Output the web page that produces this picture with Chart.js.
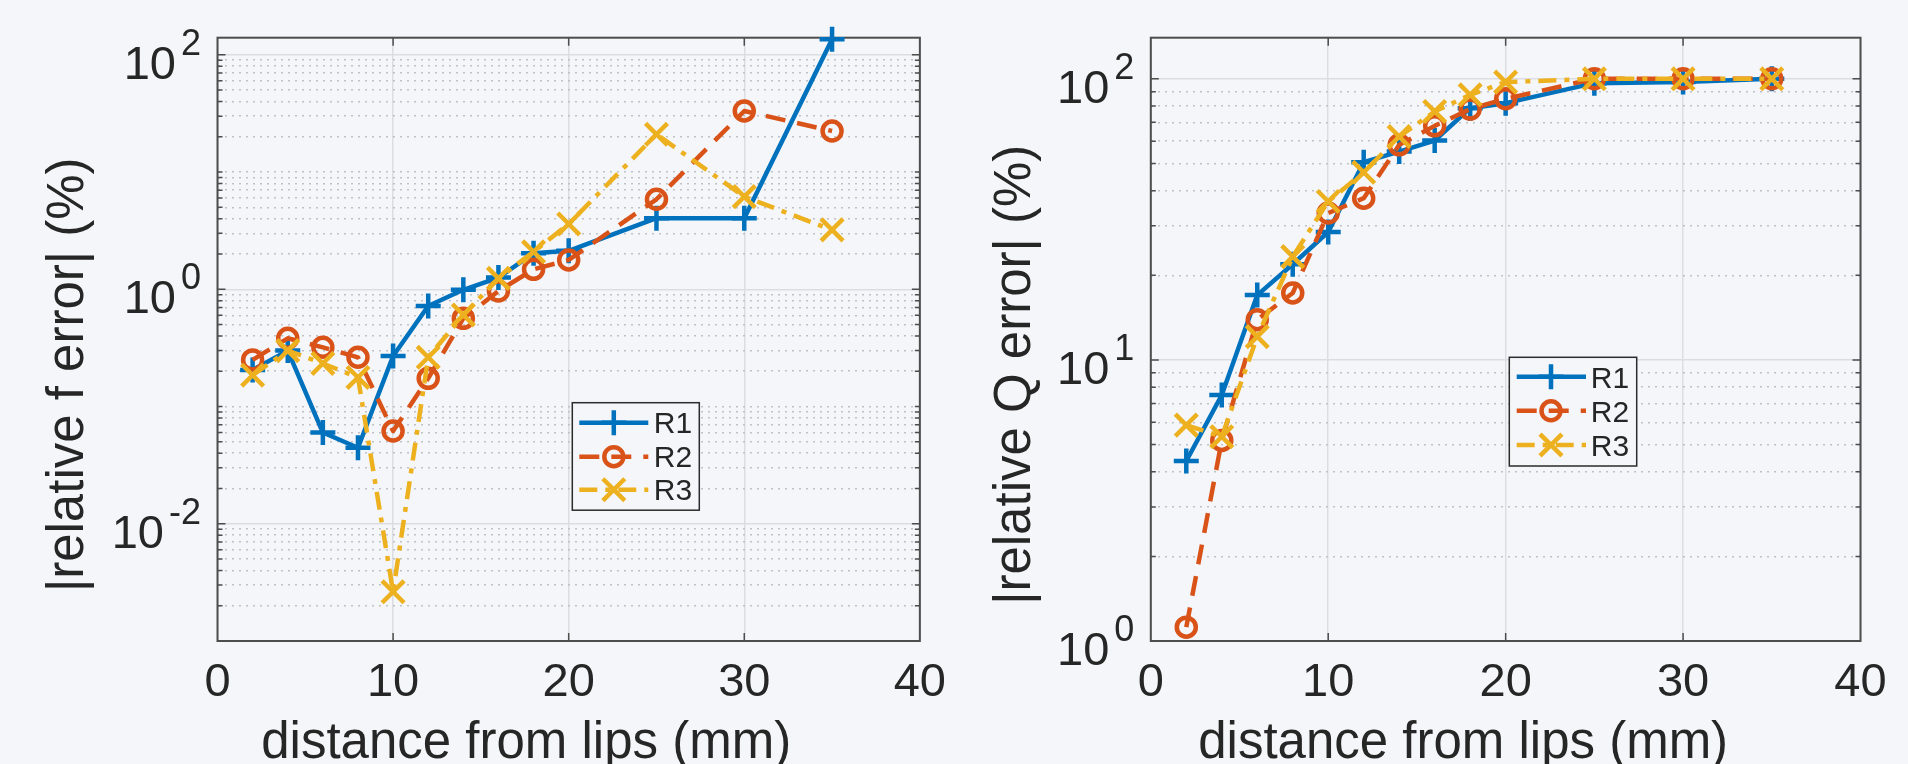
<!DOCTYPE html>
<html><head><meta charset="utf-8">
<script src="https://cdn.jsdelivr.net/npm/chart.js@4.4.1/dist/chart.umd.min.js"></script>
<style>
html,body{margin:0;padding:0;background:#f5f6fa;width:1908px;height:764px;overflow:hidden;}
#wrapL{position:absolute;left:0;top:0;width:960px;height:764px;}
#wrapR{position:absolute;left:960px;top:0;width:948px;height:764px;}
canvas{display:block;}
</style></head><body>
<div id="wrapL"><canvas id="chartF" width="960" height="764"></canvas></div>
<div id="wrapR"><canvas id="chartQ" width="948" height="764"></canvas></div>
<script>
// ---------------- data ----------------
const distances = [2, 4, 6, 8, 10, 12, 14, 16, 18, 20, 25, 30, 35];
const seriesNames = ['R1', 'R2', 'R3'];
// |relative f error| (%)
const fErrR1 = [0.205, 0.30, 0.060, 0.0445, 0.27, 0.72, 0.99, 1.26, 2.03, 2.13, 4.04, 4.04, 136];
const fErrR2 = [0.25, 0.382, 0.32, 0.263, 0.0618, 0.174, 0.565, 0.967, 1.48, 1.78, 5.86, 33.2, 22.4];
const fErrR3 = [0.185, 0.30, 0.233, 0.177, 0.00263, 0.263, 0.604, 1.24, 2.09, 3.61, 21.0, 6.17, 3.21];
// |relative Q error| (%)
const qErrR1 = [4.37, 7.5, 17.0, 21.9, 28.5, 50.5, 55.1, 60.3, 78.6, 81.9, 96.5, 97.3, 100];
const qErrR2 = [1.12, 5.17, 13.9, 17.3, 33.3, 37.6, 58.2, 68.0, 78.0, 84.9, 100, 100, 100];
const qErrR3 = [5.86, 5.33, 12.1, 23.3, 36.6, 46.5, 62.3, 76.5, 87.7, 97.3, 100, 100, 100];
// tick labels
const xTicks = [0, 10, 20, 30, 40];
const fTickExponents = [-2, 0, 2];
const qTickExponents = [0, 1, 2];
const xTitle = 'distance from lips (mm)';
const fTitle = '|relative f error| (%)';
const qTitle = '|relative Q error| (%)';

// ---------------- styles ----------------
const FONT = "'Liberation Sans', Arial, Helvetica, sans-serif";
const TXT = '#262626';
const BG = '#f5f6fa';
const BOXC = '#4d4d4d';
const MAJOR_GRID = '#dcdde2';
const MINOR_GRID = '#bfc1c6';
const seriesStyles = [
  { color: '#0072BD', dash: [], pointStyle: 'cross', radius: 12.5, order: 3 },
  { color: '#D95319', dash: [20, 12], pointStyle: 'circle', radius: 9.5, order: 2 },
  { color: '#EDB120', dash: [18, 8, 5, 8], pointStyle: 'crossRot', radius: 15.5, order: 1 }
];
const NB = '\u00A0';

function makeDatasets(seriesValues) {
  return seriesValues.map((vals, i) => {
    const s = seriesStyles[i];
    return {
      label: seriesNames[i],
      data: distances.map((d, j) => ({ x: d, y: vals[j] })),
      borderColor: s.color,
      backgroundColor: 'rgba(0,0,0,0)',
      borderWidth: 4.5,
      borderDash: s.dash,
      borderJoinStyle: 'round',
      pointStyle: s.pointStyle,
      pointRadius: s.radius,
      pointBorderWidth: 4.5,
      pointBorderColor: s.color,
      pointBackgroundColor: 'rgba(0,0,0,0)',
      tension: 0,
      fill: false,
      clip: false,
      order: s.order
    };
  });
}

const decor = {
  id: 'decor',
  beforeDatasetsDraw(chart, args, opts) {
    const { ctx, chartArea: a } = chart;
    const xs = chart.scales.x, ys = chart.scales.y, ym = chart.scales.yMinor;
    ctx.save();
    ctx.strokeStyle = BOXC;
    ctx.lineWidth = 1.5;
    ctx.beginPath();
    xs.ticks.forEach(t => {
      const px = xs.getPixelForValue(t.value);
      if (px <= a.left + 1 || px >= a.right - 1) return;
      ctx.moveTo(px, a.bottom); ctx.lineTo(px, a.bottom - 8);
      ctx.moveTo(px, a.top); ctx.lineTo(px, a.top + 8);
    });
    ys.ticks.forEach(t => {
      const py = ys.getPixelForValue(t.value);
      if (py >= a.bottom - 1 || py <= a.top + 1) return;
      ctx.moveTo(a.left, py); ctx.lineTo(a.left + 8, py);
      ctx.moveTo(a.right, py); ctx.lineTo(a.right - 8, py);
    });
    ym.ticks.forEach(t => {
      const py = ym.getPixelForValue(t.value);
      if (py >= a.bottom - 1 || py <= a.top + 1) return;
      ctx.moveTo(a.left, py); ctx.lineTo(a.left + 5, py);
      ctx.moveTo(a.right, py); ctx.lineTo(a.right - 5, py);
    });
    ctx.stroke();
    ctx.lineWidth = 2;
    ctx.strokeRect(a.left, a.top, a.right - a.left, a.bottom - a.top);
    ctx.restore();
  },
  afterDatasetsDraw(chart, args, opts) {
    const L = opts.legend;
    const ctx = chart.ctx;
    ctx.save();
    ctx.fillStyle = BG;
    ctx.fillRect(L.x, L.y, L.w, L.h);
    ctx.strokeStyle = '#2b2b2b';
    ctx.lineWidth = 1.5;
    ctx.strokeRect(L.x, L.y, L.w, L.h);
    chart.data.datasets.forEach((ds, i) => {
      const ry = L.y + L.rows[i];
      ctx.strokeStyle = ds.borderColor;
      ctx.lineWidth = ds.borderWidth;
      ctx.setLineDash(ds.borderDash || []);
      ctx.beginPath();
      ctx.moveTo(L.x + L.lineX0, ry);
      ctx.lineTo(L.x + L.lineX1, ry);
      ctx.stroke();
      ctx.setLineDash([]);
      ctx.lineWidth = ds.pointBorderWidth;
      ctx.fillStyle = 'rgba(0,0,0,0)';
      Chart.helpers.drawPoint(ctx, { pointStyle: ds.pointStyle, radius: ds.pointRadius, rotation: 0, borderWidth: ds.pointBorderWidth }, L.x + L.markerX, ry);
      ctx.fillStyle = TXT;
      ctx.font = '30px ' + FONT;
      ctx.textAlign = 'left';
      ctx.textBaseline = 'alphabetic';
      ctx.fillText(ds.label, L.x + L.textX, ry + 10.7);
    });
    ctx.restore();
  },
  afterDraw(chart, args, opts) {
    const { ctx, chartArea: a } = chart;
    const ys = chart.scales.y;
    ctx.save();
    ctx.fillStyle = TXT;
    ctx.textAlign = 'right';
    ctx.textBaseline = 'alphabetic';
    opts.exps.forEach(e => {
      const py = ys.getPixelForValue(Math.pow(10, e));
      const expStr = String(e);
      const xr = a.left - 16.5;
      ctx.font = '36px ' + FONT;
      ctx.fillText(expStr, xr, py);
      const w = ctx.measureText(expStr).width;
      ctx.font = '47px ' + FONT;
      ctx.fillText('10', xr - w - 5, py + 24);
    });
    ctx.restore();
  }
};

function buildChart(canvasId, seriesValues, cfg) {
  const minors = [];
  for (let e = Math.floor(Math.log10(cfg.yMin) + 1e-9); e <= Math.ceil(Math.log10(cfg.yMax)); e++) {
    for (let k = 1; k <= 9; k++) {
      if (k === 1 && cfg.exps.includes(e)) continue;
      const v = k * Math.pow(10, e);
      if (v >= cfg.yMin * 0.9999 && v <= cfg.yMax) minors.push(v);
    }
  }
  return new Chart(document.getElementById(canvasId), {
    type: 'line',
    data: { datasets: makeDatasets(seriesValues) },
    options: {
      responsive: false,
      animation: false,
      devicePixelRatio: 1,
      events: [],
      layout: { autoPadding: false, padding: { top: 37.7, right: cfg.padRight, bottom: 0, left: 0 } },
      plugins: {
        legend: { display: false },
        tooltip: { enabled: false },
        decor: { exps: cfg.exps, legend: cfg.legend }
      },
      scales: {
        x: {
          type: 'linear', position: 'bottom', min: 0, max: 40,
          afterBuildTicks: s => { s.ticks = xTicks.map(v => ({ value: v })); },
          afterFit: s => { s.height = 123; },
          ticks: { font: { family: FONT, size: 47, lineHeight: 1.2 }, color: TXT, padding: 14, maxRotation: 0, autoSkip: false },
          grid: { color: MAJOR_GRID, lineWidth: 1.5, drawTicks: false },
          border: { display: false },
          title: { display: true, text: xTitle + NB.repeat(6), color: TXT, font: { family: FONT, size: 51, lineHeight: 0.78 }, padding: { top: 0, bottom: 0 } }
        },
        yMinor: {
          type: 'logarithmic', position: 'left', min: cfg.yMin, max: cfg.yMax,
          afterBuildTicks: s => { s.ticks = minors.map(v => ({ value: v })); },
          afterFit: s => { s.width = 0; },
          ticks: { display: false, autoSkip: false },
          grid: { color: MINOR_GRID, lineWidth: 1.5, drawTicks: false },
          border: { display: false, dash: [2, 5] }
        },
        y: {
          type: 'logarithmic', position: 'left', min: cfg.yMin, max: cfg.yMax,
          afterBuildTicks: s => { s.ticks = cfg.exps.map(e => ({ value: Math.pow(10, e) })); },
          afterFit: s => { s.width = cfg.yWidth; },
          ticks: { display: false, autoSkip: false },
          grid: { color: MAJOR_GRID, lineWidth: 1.5, drawTicks: false },
          border: { display: false },
          title: { display: true, text: cfg.yTitle + NB.repeat(5), color: TXT, font: { family: FONT, size: 51, lineHeight: 0.78 }, padding: { top: cfg.yTitlePad, bottom: 0 } }
        }
      }
    },
    plugins: [decor]
  });
}

buildChart('chartF', [fErrR1, fErrR2, fErrR3], {
  yMin: 0.001, yMax: 140, exps: fTickExponents, yWidth: 217.5, padRight: 33,
  yTitle: fTitle, yTitlePad: 48.6,
  legend: { x: 572.3, y: 402.7, w: 127, h: 107.5, rows: [20, 54, 87], lineX0: 7, lineX1: 76, markerX: 41.5, textX: 81.5 }
});
buildChart('chartQ', [qErrR1, qErrR2, qErrR3], {
  yMin: 1, yMax: 140, exps: qTickExponents, yWidth: 190.8, padRight: 47.5,
  yTitle: qTitle, yTitlePad: 35.6,
  legend: { x: 549.3, y: 357.3, w: 127.4, h: 108.7, rows: [19.5, 53.5, 87.7], lineX0: 7.4, lineX1: 76.7, markerX: 41.7, textX: 81.5 }
});
</script>
</body></html>
